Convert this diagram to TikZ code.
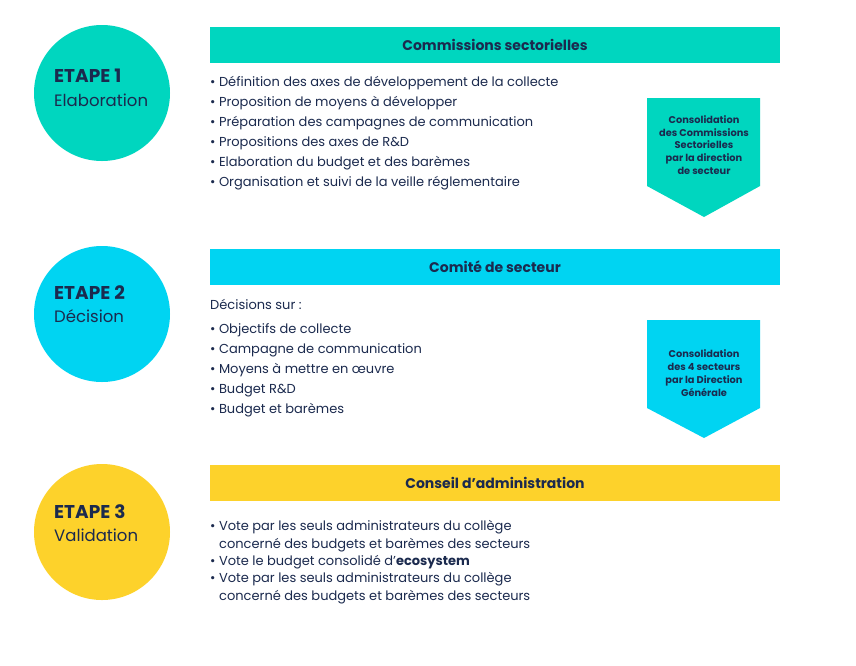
\documentclass[tikz,border=0pt]{standalone}
\usepackage{fontspec}
\setmainfont{Poppins}
\usetikzlibrary{positioning}
\definecolor{tealc}{HTML}{00D6BF}
\definecolor{cyanc}{HTML}{00D4F2}
\definecolor{yellowc}{HTML}{FDD22B}
\definecolor{navy}{HTML}{1B2A4E}
\tikzset{
  stepcircle/.style={circle,minimum size=136pt,inner sep=0pt},
  header/.style={minimum width=570pt,minimum height=36pt,inner sep=0pt,font=\bfseries\fontsize{14}{16}\selectfont,text=navy},
  body/.style={anchor=west,inner sep=0pt,font=\fontsize{13}{15}\selectfont,text=navy},
  stepnum/.style={anchor=west,inner sep=0pt,text=navy,font=\bfseries\fontsize{18.5}{21}\selectfont},
  stepname/.style={anchor=west,inner sep=0pt,text=navy,font=\fontsize{16.5}{19}\selectfont},
  arrowtext/.style={align=center,inner sep=0pt,text=navy,font=\bfseries\fontsize{9.8}{12.8}\selectfont}
}
\newcommand{\bul}{\textbullet\ }
\begin{document}
\begin{tikzpicture}[x=1pt,y=-1pt]
\useasboundingbox[fill=white] (0,0) rectangle (856,665);
% circles
\node[stepcircle,fill=tealc] (c1) at (102,93) {};
\node[stepcircle,fill=cyanc] (c2) at (102,314) {};
\node[stepcircle,fill=yellowc] (c3) at (102,532) {};
\node[stepnum] (n1) at (54,76) {ETAPE 1};
\node[stepname] (s1) at (54,100) {Elaboration};
\node[stepnum] (n2) at (54,293) {ETAPE 2};
\node[stepname] (s2) at (54,316) {Décision};
\node[stepnum] (n3) at (54,512) {ETAPE 3};
\node[stepname] (s3) at (54,535) {Validation};
% headers
\node[header,fill=tealc] (h1) at (495,44.5) {Commissions sectorielles};
\node[header,fill=cyanc] (h2) at (495,266.5) {Comité de secteur};
\node[header,fill=yellowc] (h3) at (495,482.5) {Conseil d’administration};
% arrows
\fill[tealc] (647,98) -- (760,98) -- (760,186) -- (704,217) -- (647,186) -- cycle;
\node[arrowtext] (a1) at (704,145) {Consolidation\\des Commissions\\Sectorielles\\par la direction\\de secteur};
\fill[cyanc] (647,320) -- (760,320) -- (760,408) -- (704,438) -- (647,408) -- cycle;
\node[arrowtext] (a2) at (704,373) {Consolidation\\des 4 secteurs\\par la Direction\\Générale};
% step 1 list
\node[body] (l11) at (210,83) {\bul Définition des axes de développement de la collecte};
\node[body] (l12) at (210,103) {\bul Proposition de moyens à développer};
\node[body] (l13) at (210,123) {\bul Préparation des campagnes de communication};
\node[body] (l14) at (210,143) {\bul Propositions des axes de R\&D};
\node[body] (l15) at (210,163) {\bul Elaboration du budget et des barèmes};
\node[body] (l16) at (210,183) {\bul Organisation et suivi de la veille réglementaire};
% step 2 list
\node[body] (l20) at (210,304) {Décisions sur :};
\node[body] (l21) at (210,330) {\bul Objectifs de collecte};
\node[body] (l22) at (210,350) {\bul Campagne de communication};
\node[body] (l23) at (210,370) {\bul Moyens à mettre en œuvre};
\node[body] (l24) at (210,390) {\bul Budget R\&D};
\node[body] (l25) at (210,410) {\bul Budget et barèmes};
% step 3 list
\node[body] (l31) at (210,527) {\bul Vote par les seuls administrateurs du collège};
\node[body] (l32) at (219,545) {concerné des budgets et barèmes des secteurs};
\node[body] (l33) at (210,562) {\bul Vote le budget consolidé d’\textbf{ecosystem}};
\node[body] (l34) at (210,579) {\bul Vote par les seuls administrateurs du collège};
\node[body] (l35) at (219,597) {concerné des budgets et barèmes des secteurs};
\end{tikzpicture}
\end{document}
